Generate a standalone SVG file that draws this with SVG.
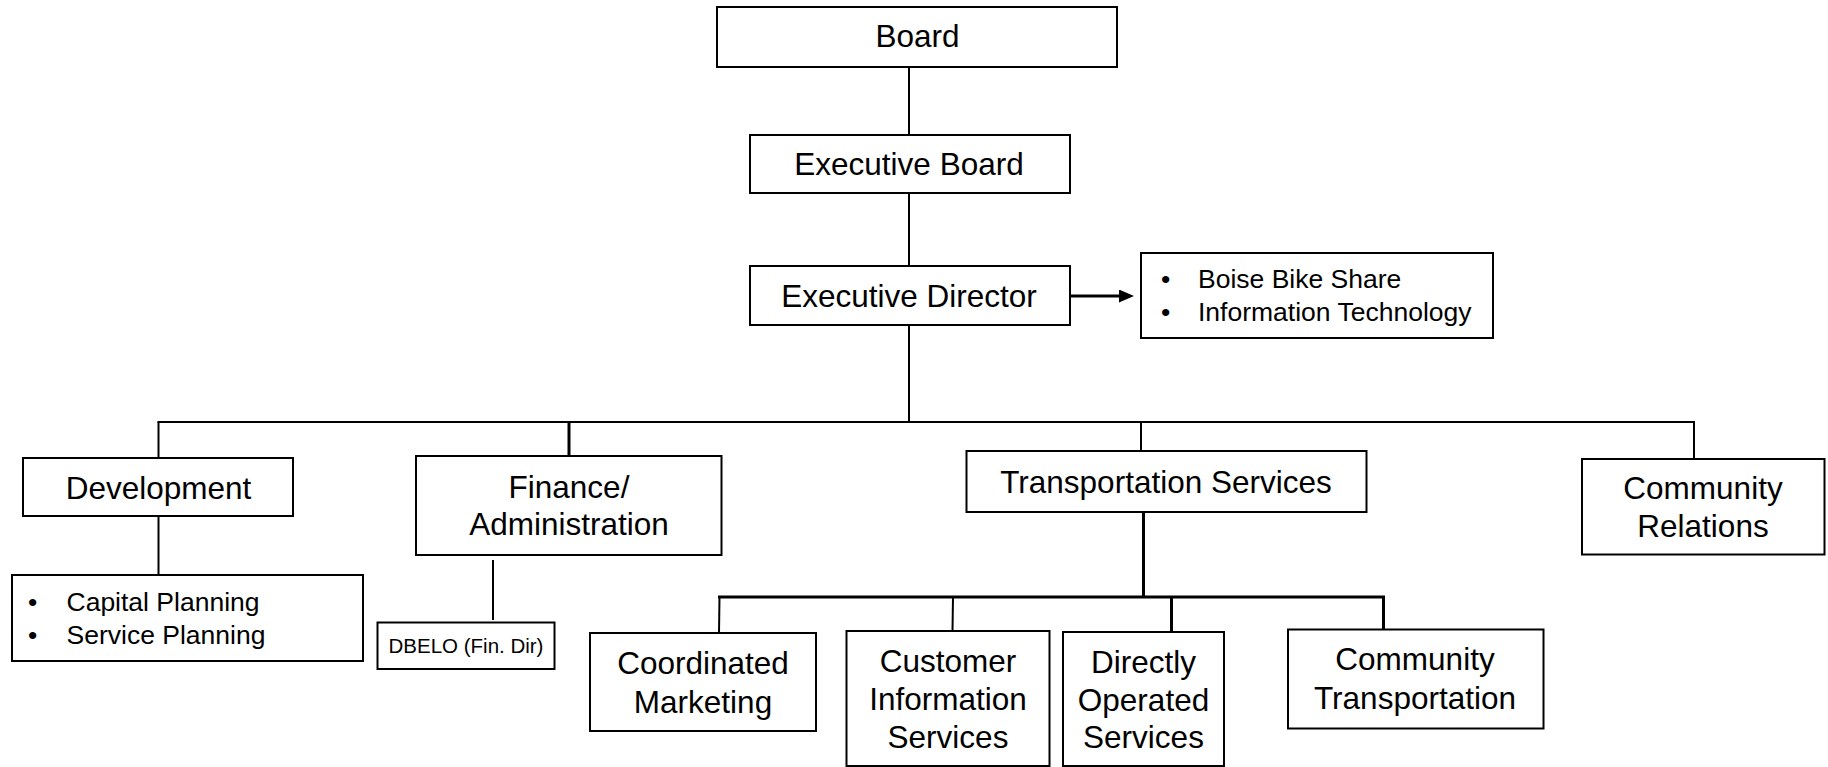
<svg xmlns="http://www.w3.org/2000/svg" width="1828" height="767" viewBox="0 0 1828 767">
<style>
rect.n{fill:#fff;stroke:#000;stroke-width:2}
text{font-family:"Liberation Sans",Arial,sans-serif;fill:#000}
.t{font-size:31.5px;text-anchor:middle}
.s{font-size:26.5px}
.xs{font-size:20.5px;text-anchor:middle}
.c line{stroke:#000;stroke-width:2}
.c line.k{stroke-width:3}
</style>
<defs>
<marker id="ah" viewBox="0 0 15 13" refX="5" refY="6.5" markerWidth="15" markerHeight="13" orient="auto" markerUnits="userSpaceOnUse">
<path d="M0,0 L15,6.5 L0,13 z" fill="#000"/>
</marker>
</defs>
<rect width="1828" height="767" fill="#fff"/>
<g class="c" id="connectors">
<line x1="909" y1="67" x2="909" y2="135"/>
<line x1="909" y1="193" x2="909" y2="266"/>
<line x1="1070" y1="296" x2="1124" y2="296" class="k" marker-end="url(#ah)"/>
<line x1="909" y1="325" x2="909" y2="422"/>
<line x1="157.5" y1="422" x2="1695" y2="422"/>
<line x1="158.5" y1="422" x2="158.5" y2="458"/>
<line x1="569" y1="422" x2="569" y2="456" class="k"/>
<line x1="1141" y1="422" x2="1141" y2="451"/>
<line x1="1694" y1="422" x2="1694" y2="459"/>
<line x1="158.5" y1="516" x2="158.5" y2="575"/>
<line x1="493" y1="560" x2="493" y2="620"/>
<line x1="1143.5" y1="512" x2="1143.5" y2="597" class="k"/>
<line x1="718" y1="597" x2="1385" y2="597" class="k"/>
<line x1="719.5" y1="597" x2="719" y2="633"/>
<line x1="953" y1="597" x2="952.5" y2="631"/>
<line x1="1171.5" y1="597" x2="1171.5" y2="632" class="k"/>
<line x1="1383.5" y1="597" x2="1383.5" y2="630" class="k"/>
</g>
<g id="board"><rect class="n" x="717" y="7" width="400" height="60"/><text class="t" x="917.5" y="47">Board</text></g>
<g id="exec-board"><rect class="n" x="750" y="135" width="320" height="58"/><text class="t" x="909" y="175">Executive Board</text></g>
<g id="exec-director"><rect class="n" x="750" y="266" width="320" height="59"/><text class="t" x="909" y="307">Executive Director</text></g>
<g id="bike-it"><rect class="n" x="1141" y="253" width="352" height="85"/>
<text class="s" x="1161" y="288">•</text><text class="s" x="1198" y="288">Boise Bike Share</text>
<text class="s" x="1161" y="320.5">•</text><text class="s" x="1198" y="320.5">Information Technology</text></g>
<g id="development"><rect class="n" x="23" y="458" width="270" height="58"/><text class="t" x="158.5" y="499">Development</text></g>
<g id="planning"><rect class="n" x="12" y="575" width="351" height="86"/>
<text class="s" x="28" y="611">•</text><text class="s" x="66.5" y="611">Capital Planning</text>
<text class="s" x="28" y="643.5">•</text><text class="s" x="66.5" y="643.5">Service Planning</text></g>
<g id="finance"><rect class="n" x="416" y="456" width="305.5" height="99"/><text class="t" x="569" y="498">Finance/</text><text class="t" x="569" y="535">Administration</text></g>
<g id="dbelo"><rect class="n" x="377.5" y="622.5" width="177" height="46.5"/><text class="xs" x="466" y="653">DBELO (Fin. Dir)</text></g>
<g id="transportation"><rect class="n" x="966.5" y="451" width="400" height="61"/><text class="t" x="1166" y="493">Transportation Services</text></g>
<g id="community-relations"><rect class="n" x="1582" y="459" width="242.5" height="95.5"/><text class="t" x="1703" y="499">Community</text><text class="t" x="1703" y="536.5">Relations</text></g>
<g id="coordinated"><rect class="n" x="590" y="633" width="226" height="98"/><text class="t" x="703" y="674">Coordinated</text><text class="t" x="703" y="712.5">Marketing</text></g>
<g id="customer"><rect class="n" x="846.5" y="631" width="203" height="135"/><text class="t" x="948" y="671.5">Customer</text><text class="t" x="948" y="710">Information</text><text class="t" x="948" y="747.5">Services</text></g>
<g id="directly"><rect class="n" x="1063" y="632" width="161" height="134"/><text class="t" x="1143.5" y="672.5">Directly</text><text class="t" x="1143.5" y="711">Operated</text><text class="t" x="1143.5" y="747.5">Services</text></g>
<g id="community-transportation"><rect class="n" x="1288" y="629.5" width="255.5" height="99"/><text class="t" x="1415" y="670">Community</text><text class="t" x="1415" y="709">Transportation</text></g>
</svg>
